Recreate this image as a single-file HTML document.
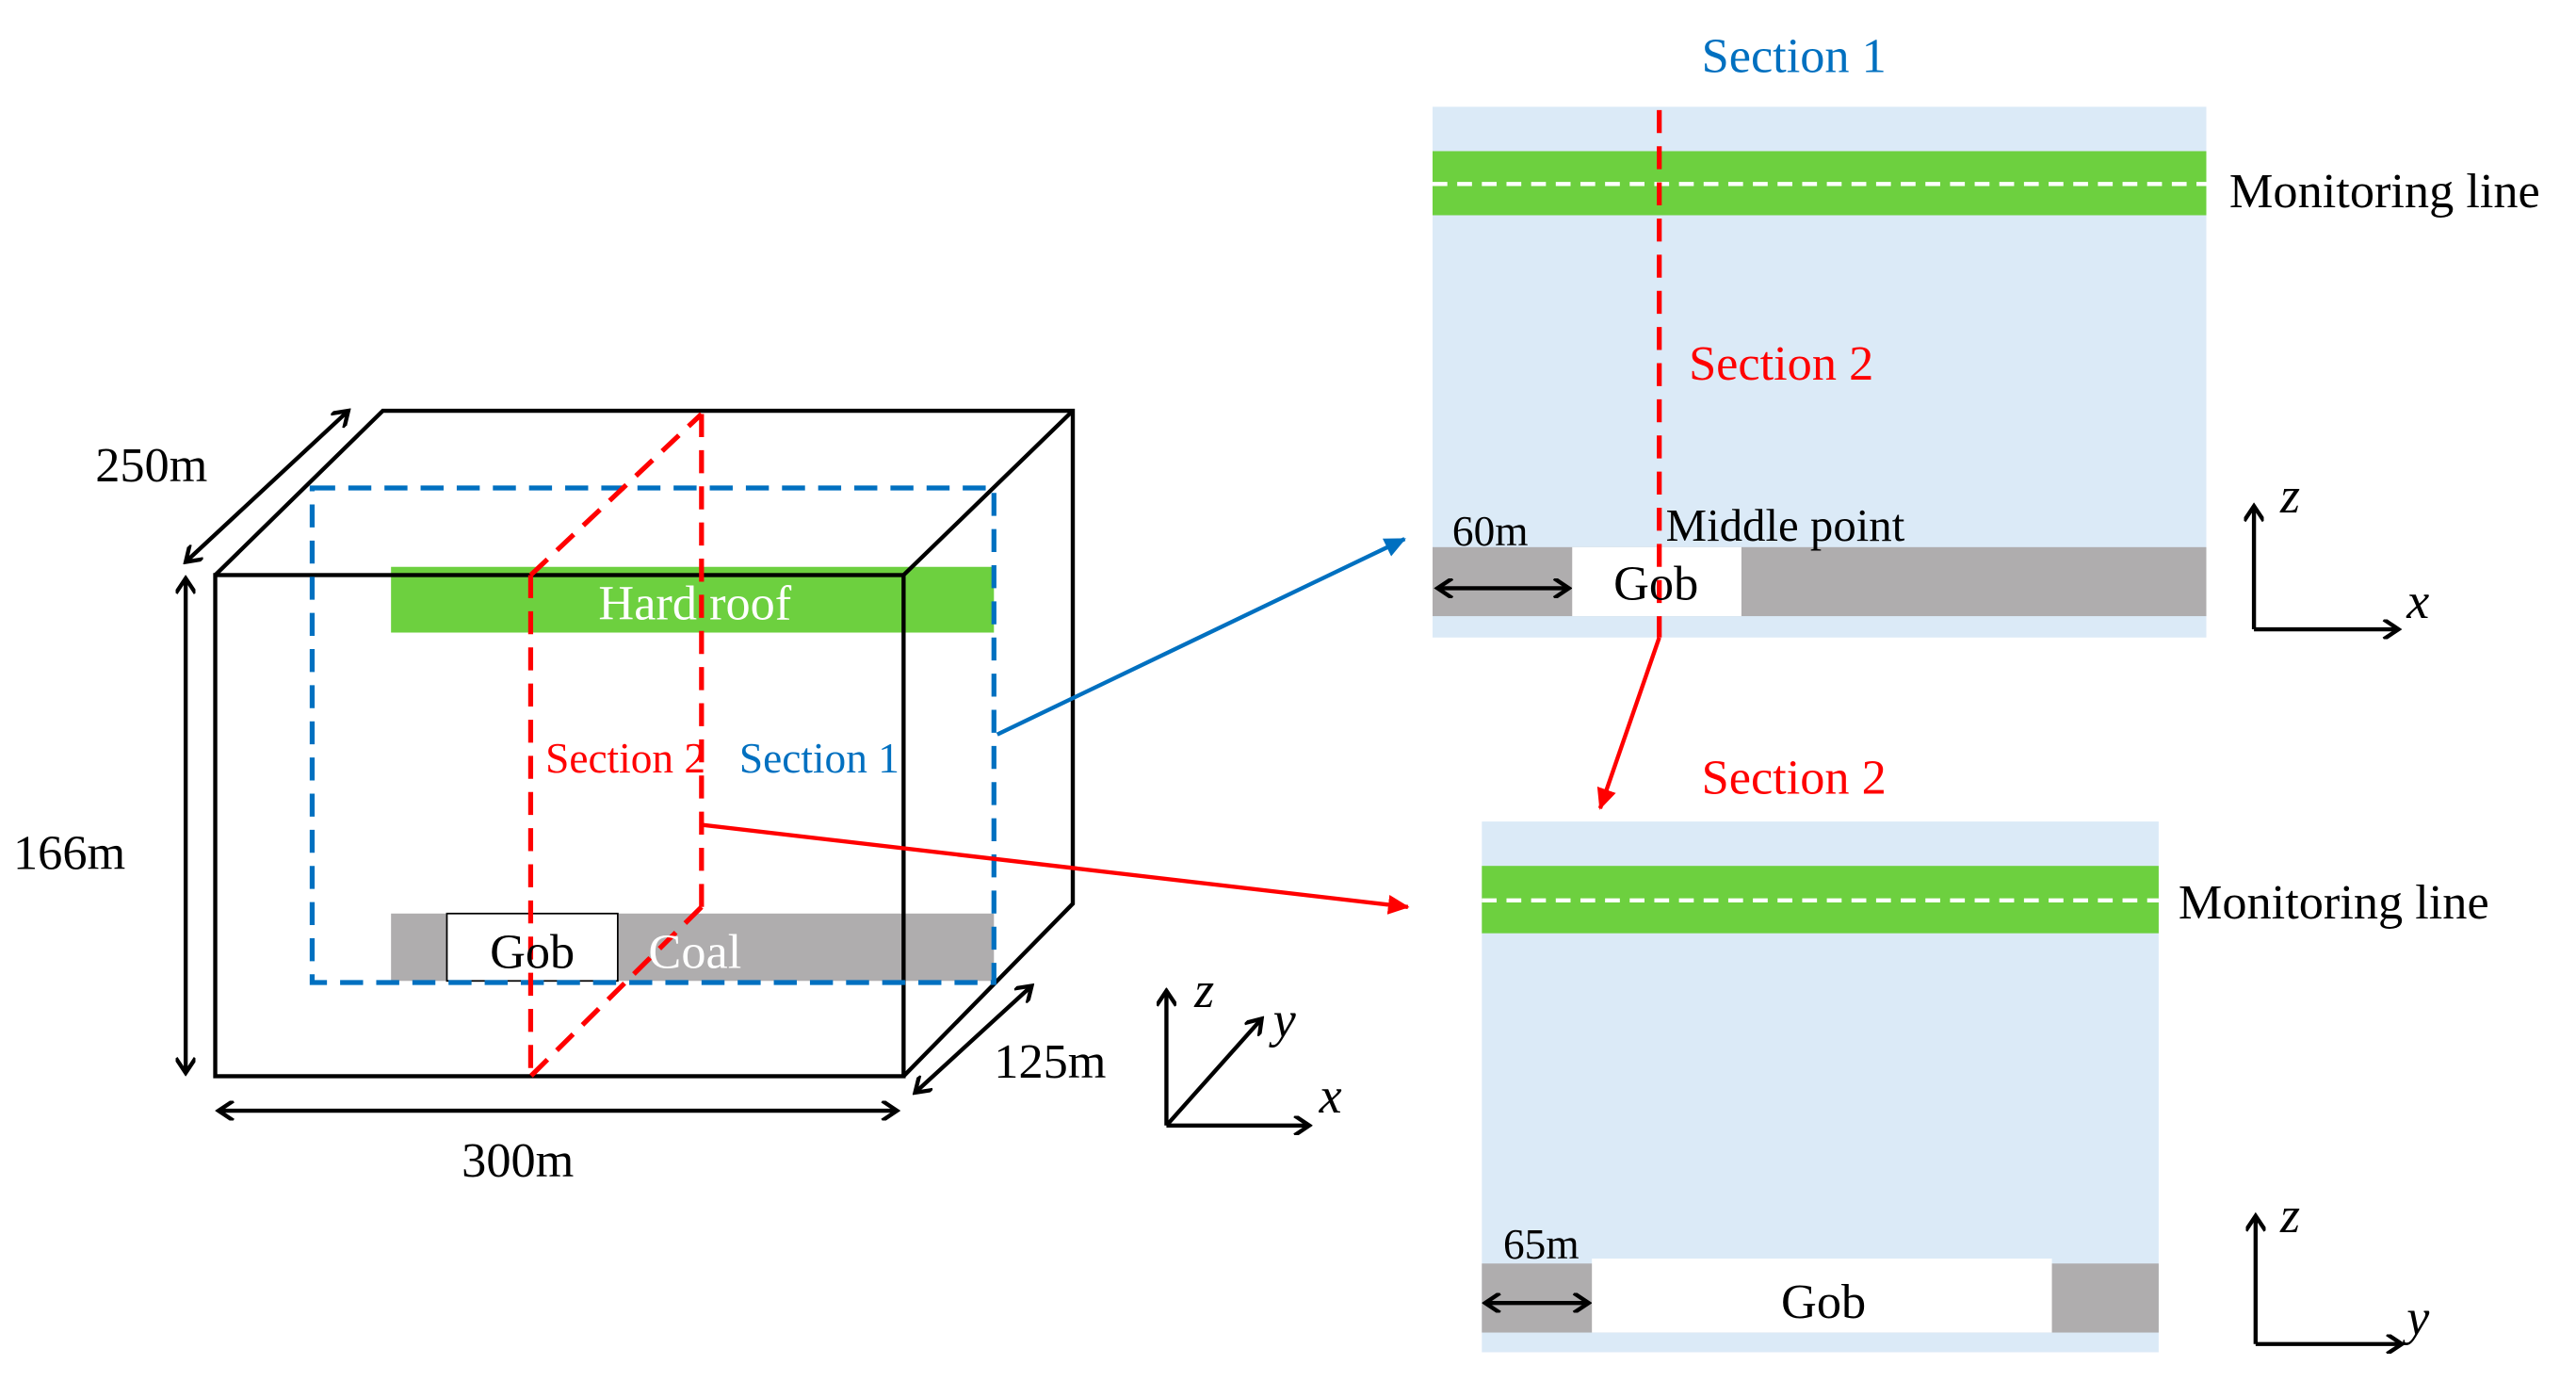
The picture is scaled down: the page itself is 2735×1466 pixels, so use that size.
<!DOCTYPE html>
<html><head><meta charset="utf-8"><style>html,body{margin:0;padding:0;background:#fff}svg{display:block}</style></head>
<body>
<svg width="2735" height="1466" viewBox="0 0 1568 840.5" xmlns="http://www.w3.org/2000/svg" font-family="Liberation Serif, serif" font-size="30">
<defs>
<marker id="ak" markerWidth="12" markerHeight="12" refX="10" refY="6" orient="auto-start-reverse" markerUnits="userSpaceOnUse"><path d="M1,0 L10,6 L1,12" fill="none" stroke="#000" stroke-width="2.5"/></marker>
<marker id="ab" markerWidth="14" markerHeight="12" refX="12" refY="6" orient="auto" markerUnits="userSpaceOnUse"><path d="M0,0 L13,6 L0,12 Z" fill="#0070c0"/></marker>
<marker id="ar" markerWidth="14" markerHeight="12" refX="12" refY="6" orient="auto" markerUnits="userSpaceOnUse"><path d="M0,0 L13,6 L0,12 Z" fill="#f00"/></marker>
</defs>
<rect x="238" y="345" width="367" height="40" fill="#6dd03f"/>
<rect x="238" y="556" width="367" height="41" fill="#afadae"/>
<rect x="272" y="556" width="104" height="41" fill="#fff" stroke="#000" stroke-width="1"/>
<g fill="none" stroke="#000" stroke-width="2.5">
<rect x="131" y="350" width="419" height="305"/>
<polyline points="131,350 233,250 653,250 653,550 550,655"/>
<line x1="550" y1="350" x2="653" y2="250"/>
</g>
<rect x="190" y="297" width="415" height="301" fill="none" stroke="#0070c0" stroke-width="3" stroke-dasharray="14,8"/>
<g stroke="#f00" stroke-width="3" stroke-dasharray="14,8" fill="none">
<line x1="323" y1="350" x2="323" y2="655"/>
<line x1="323" y1="350" x2="427" y2="252"/>
<line x1="427" y1="252" x2="427" y2="552"/>
<line x1="427" y1="552" x2="323" y2="655"/>
</g>
<text x="423" y="377" fill="#fff" text-anchor="middle">Hard roof</text>
<text x="332" y="470" fill="#f00" font-size="26">Section 2</text>
<text x="450" y="470" fill="#0070c0" font-size="26">Section 1</text>
<text x="324" y="589" text-anchor="middle">Gob</text>
<text x="423" y="589" fill="#fff" text-anchor="middle">Coal</text>
<line x1="607" y1="447" x2="855" y2="328" stroke="#0070c0" stroke-width="2.5" marker-end="url(#ab)"/>
<line x1="427" y1="502" x2="857" y2="552" stroke="#f00" stroke-width="2.5" marker-end="url(#ar)"/>
<g stroke="#000" stroke-width="2.5" fill="none">
<line x1="113" y1="342" x2="212" y2="250" marker-start="url(#ak)" marker-end="url(#ak)"/>
<line x1="113" y1="352" x2="113" y2="653" marker-start="url(#ak)" marker-end="url(#ak)"/>
<line x1="133" y1="676" x2="546" y2="676" marker-start="url(#ak)" marker-end="url(#ak)"/>
<line x1="557" y1="665" x2="628" y2="600" marker-start="url(#ak)" marker-end="url(#ak)"/>
<line x1="710" y1="685" x2="710" y2="603" marker-end="url(#ak)"/>
<line x1="710" y1="685" x2="797" y2="685" marker-end="url(#ak)"/>
<line x1="710" y1="685" x2="768" y2="620" marker-end="url(#ak)"/>
</g>
<text x="58" y="293">250m</text>
<text x="8" y="529">166m</text>
<text x="281" y="716">300m</text>
<text x="605" y="656">125m</text>
<g font-style="italic" font-size="31"><text x="727" y="613">z</text><text x="775" y="631">y</text><text x="803" y="677">x</text></g>
<rect x="872" y="65" width="471" height="323" fill="#dbeaf7"/>
<rect x="872" y="92" width="471" height="39" fill="#6dd03f"/>
<line x1="872" y1="112" x2="1343" y2="112" stroke="#fff" stroke-width="2.5" stroke-dasharray="9,6"/>
<rect x="872" y="333" width="471" height="42" fill="#afadae"/>
<rect x="957" y="333" width="103" height="42" fill="#fff"/>
<line x1="1010" y1="67" x2="1010" y2="388" stroke="#f00" stroke-width="3" stroke-dasharray="14,8"/>
<text x="1092" y="44" fill="#0070c0" text-anchor="middle">Section 1</text>
<text x="1028" y="231" fill="#f00">Section 2</text>
<text x="1357" y="126">Monitoring line</text>
<text x="884" y="332" font-size="26">60m</text>
<text x="1014" y="329" font-size="28">Middle point</text>
<text x="1008" y="365" text-anchor="middle">Gob</text>
<line x1="875" y1="358" x2="955" y2="358" stroke="#000" stroke-width="2.5" marker-start="url(#ak)" marker-end="url(#ak)"/>
<g stroke="#000" stroke-width="2.5" fill="none">
<line x1="1372" y1="383" x2="1372" y2="308" marker-end="url(#ak)"/>
<line x1="1372" y1="383" x2="1460" y2="383" marker-end="url(#ak)"/>
<line x1="1373" y1="818" x2="1373" y2="740" marker-end="url(#ak)"/>
<line x1="1373" y1="818" x2="1462" y2="818" marker-end="url(#ak)"/>
</g>
<g font-style="italic" font-size="31"><text x="1388" y="312">z</text><text x="1465" y="376">x</text><text x="1388" y="750">z</text><text x="1465" y="812">y</text></g>
<line x1="1010" y1="388" x2="974" y2="492" stroke="#f00" stroke-width="2.5" marker-end="url(#ar)"/>
<rect x="902" y="500" width="412" height="323" fill="#dbeaf7"/>
<rect x="902" y="527" width="412" height="41" fill="#6dd03f"/>
<line x1="902" y1="548" x2="1314" y2="548" stroke="#fff" stroke-width="2.5" stroke-dasharray="9,6"/>
<rect x="902" y="769" width="412" height="42" fill="#afadae"/>
<rect x="969" y="766" width="280" height="45" fill="#fff"/>
<text x="1092" y="483" fill="#f00" text-anchor="middle">Section 2</text>
<text x="1326" y="559">Monitoring line</text>
<text x="915" y="766" font-size="26">65m</text>
<text x="1110" y="802" text-anchor="middle">Gob</text>
<line x1="904" y1="793" x2="967" y2="793" stroke="#000" stroke-width="2.5" marker-start="url(#ak)" marker-end="url(#ak)"/>
</svg>
</body></html>
